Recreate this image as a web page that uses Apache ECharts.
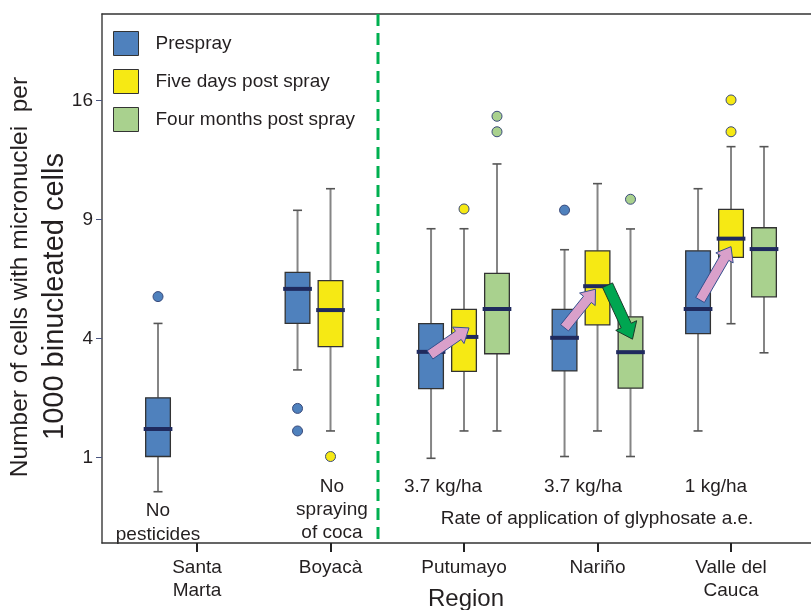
<!DOCTYPE html>
<html>
<head>
<meta charset="utf-8">
<script src="https://cdn.jsdelivr.net/npm/echarts@6/dist/echarts.min.js"></script>
<style>
  html, body { margin: 0; padding: 0; background: #fff; }
  #chart { width: 811px; height: 610px; }
</style>
</head>
<body>
<div id="chart"></div>
<script>
// Regions along the x axis
const regions = ['Santa\nMarta', 'Boyacà', 'Putumayo', 'Nariño', 'Valle del\nCauca'];
// Tick labels on the (square-root scaled) y axis
const yTicks = [1, 4, 9, 16];

// Box statistics: [region index, lower whisker, Q1, median, Q3, upper whisker]
const prespray = [
  [0, 0.51, 1.02, 1.54, 2.26, 4.53],
  [1, 3.02, 4.53, 5.85, 6.54, 9.48],
  [2, 0.99, 2.50, 3.57, 4.52, 8.55],
  [3, 1.02, 2.99, 4.03, 5.05, 7.55],
  [4, 1.50, 4.17, 5.06, 7.50, 10.63]
];
const fiveDays = [
  [1, 1.50, 3.74, 5.02, 6.19, 10.63],
  [2, 1.50, 2.98, 4.06, 5.05, 8.55],
  [3, 1.50, 4.48, 5.96, 7.50, 10.91],
  [4, 4.52, 7.20, 8.07, 9.53, 13.06]
];
const fourMonths = [
  [2, 1.50, 3.51, 5.06, 6.50, 12.03],
  [3, 1.02, 2.51, 3.56, 4.77, 8.54],
  [4, 3.54, 5.53, 7.58, 8.60, 13.06]
];

// Outliers: [region index, value]
const presprayOut = [[0, 5.54], [1, 2.00], [1, 1.50], [3, 9.49]];
const fiveDaysOut = [[1, 1.02], [2, 9.55], [4, 13.98], [4, 16.05]];
const fourMonthsOut = [[2, 13.98], [2, 14.97], [3, 10.06]];

// Change arrows between medians: [region index, from group, to group]
const riseArrows = [[2, 0, 1], [3, 0, 1], [4, 0, 1]];
const fallArrows = [[3, 1, 2]];

const FONT = "'Liberation Sans', Arial, sans-serif";
const TEXT = '#231f20';
const sq = Math.sqrt;

const groups = [
  { name: 'Prespray', color: '#4f81bd', boxes: prespray, outliers: presprayOut, offset: -0.247 },
  { name: 'Five days post spray', color: '#f6e914', boxes: fiveDays, outliers: fiveDaysOut, offset: 0 },
  { name: 'Four months post spray', color: '#a9d18e', boxes: fourMonths, outliers: fourMonthsOut, offset: 0.247 }
];

// x position of a group's box inside its region
function slot(gi, r) {
  if (gi === 0 && r === 0) return r - 0.292; // the lone Santa Marta box sits a bit further left
  return r + groups[gi].offset;
}
function medianOf(gi, r) {
  return groups[gi].boxes.find(b => b[0] === r)[3];
}

function boxRenderer(gi) {
  const color = groups[gi].color;
  return function (params, api) {
    const x = slot(gi, api.value(0));
    const pLW = api.coord([x, api.value(1)]);
    const pQ1 = api.coord([x, api.value(2)]);
    const pMed = api.coord([x, api.value(3)]);
    const pQ3 = api.coord([x, api.value(4)]);
    const pUW = api.coord([x, api.value(5)]);
    const unit = api.size([1, 0])[0];
    const hw = unit * 0.0925;
    const cx = pMed[0];
    const cap = 4.5;
    const whisker = { stroke: '#858585', lineWidth: 2 };
    const capStyle = { stroke: '#555', lineWidth: 1.6 };
    return {
      type: 'group',
      children: [
        { type: 'line', shape: { x1: cx, y1: pUW[1], x2: cx, y2: pQ3[1] }, style: whisker },
        { type: 'line', shape: { x1: cx, y1: pQ1[1], x2: cx, y2: pLW[1] }, style: whisker },
        { type: 'line', shape: { x1: cx - cap, y1: pUW[1], x2: cx + cap, y2: pUW[1] }, style: capStyle },
        { type: 'line', shape: { x1: cx - cap, y1: pLW[1], x2: cx + cap, y2: pLW[1] }, style: capStyle },
        { type: 'rect', shape: { x: cx - hw, y: pQ3[1], width: 2 * hw, height: pQ1[1] - pQ3[1] },
          style: { fill: color, stroke: '#333', lineWidth: 1.3 } },
        { type: 'line', shape: { x1: cx - hw - 2, y1: pMed[1], x2: cx + hw + 2, y2: pMed[1] },
          style: { stroke: '#1f2a5e', lineWidth: 4 } }
      ]
    };
  };
}

function arrowPoints(a, b, shaftW, headW, headL) {
  const dx = b[0] - a[0], dy = b[1] - a[1];
  const len = Math.hypot(dx, dy);
  const ux = dx / len, uy = dy / len, nx = -uy, ny = ux;
  const bx = b[0] - ux * headL, by = b[1] - uy * headL;
  const s = shaftW / 2, h = headW / 2;
  return [
    [a[0] + nx * s, a[1] + ny * s],
    [bx + nx * s, by + ny * s],
    [bx + nx * h, by + ny * h],
    [b[0], b[1]],
    [bx - nx * h, by - ny * h],
    [bx - nx * s, by - ny * s],
    [a[0] - nx * s, a[1] - ny * s]
  ];
}

// Arrows start and end near the medians they connect; per-region pixel nudges
// keep them clear of the median bars.
function arrowRenderer(style, nudges, dims) {
  return function (params, api) {
    const r = api.value(0), from = api.value(1), to = api.value(2);
    const n = nudges[r];
    const a = api.coord([slot(from, r), sq(medianOf(from, r))]);
    const b = api.coord([slot(to, r), sq(medianOf(to, r))]);
    const tail = [a[0] + n[0], a[1] + n[1]];
    const tip = [b[0] + n[2], b[1] + n[3]];
    return {
      type: 'polygon',
      shape: { points: arrowPoints(tail, tip, dims[0], dims[1], dims[2]) },
      style: style
    };
  };
}

const series = [];
groups.forEach((g, gi) => {
  series.push({
    name: g.name,
    type: 'custom',
    z: 2,
    renderItem: boxRenderer(gi),
    encode: { x: 0, y: [1, 2, 3, 4, 5] },
    data: g.boxes.map(b => [b[0]].concat(b.slice(1).map(sq))),
    silent: true
  });
});
groups.forEach((g, gi) => {
  series.push({
    name: g.name,
    type: 'scatter',
    z: 3,
    symbol: 'circle',
    symbolSize: 10,
    itemStyle: { color: g.color, borderColor: '#3b4b7b', borderWidth: 1, opacity: 1 },
    data: g.outliers.map(o => [slot(gi, o[0]), sq(o[1])]),
    silent: true
  });
});
series.push({
  type: 'custom',
  z: 5,
  renderItem: arrowRenderer({ fill: '#d9a0ca', stroke: '#34508e', lineWidth: 1 },
    { 2: [-1, 3, 5, -9], 3: [0, -10, -2, 3], 4: [2, -9, 0, 8] }, [10, 20, 13]),
  encode: { x: 0 },
  data: riseArrows,
  silent: true
});
series.push({
  type: 'custom',
  z: 5,
  renderItem: arrowRenderer({ fill: '#00a651', stroke: '#1c3b2a', lineWidth: 1 },
    { 3: [10, -1, 2, -13] }, [11, 23, 15]),
  encode: { x: 0 },
  data: fallArrows,
  silent: true
});

const textStyle = (text, x, y, size, lh) => ({
  type: 'text', x: x, y: y, silent: true,
  style: { text: text, fontSize: size, fontFamily: FONT, fill: TEXT, align: 'center', verticalAlign: 'middle', lineHeight: lh || size + 4 }
});

const chart = echarts.init(document.getElementById('chart'), null, { renderer: 'canvas' });
chart.setOption({
  animation: false,
  backgroundColor: '#fff',
  grid: { left: 102, right: 0, top: 14, bottom: 67 },
  legend: {
    orient: 'vertical', left: 113, top: 31, padding: 0,
    itemWidth: 25, itemHeight: 24, itemGap: 13,
    selectedMode: false,
    data: groups.map(g => ({ name: g.name, icon: 'rect',
      itemStyle: { color: g.color, borderColor: '#333', borderWidth: 1 } })),
    textStyle: { fontSize: 19, fontFamily: FONT, color: TEXT, padding: [0, 0, 0, 12] }
  },
  xAxis: [{
    type: 'value', min: -0.7116, max: 4.599,
    splitLine: { show: false },
    axisLine: { onZero: false, lineStyle: { color: '#333', width: 1.5 } },
    axisTick: { customValues: regions.map((r, i) => i), length: 9, lineStyle: { color: '#222', width: 2 } },
    axisLabel: { customValues: regions.map((r, i) => i), formatter: v => regions[Math.round(v)],
      fontSize: 19, lineHeight: 23, fontFamily: FONT, color: TEXT, margin: 13 }
  }, {
    type: 'value', position: 'top', min: -0.7116, max: 4.599,
    splitLine: { show: false }, axisTick: { show: false }, axisLabel: { show: false },
    axisLine: { show: true, onZero: false, lineStyle: { color: '#333', width: 1.5 } }
  }],
  yAxis: {
    type: 'value', min: 0.2832, max: 4.7286,
    splitLine: { show: false },
    axisLine: { show: true, onZero: false, lineStyle: { color: '#444', width: 1.5 } },
    axisTick: { show: true, customValues: yTicks.map(sq), length: 6, lineStyle: { color: '#4a5580', width: 1 } },
    axisLabel: { customValues: yTicks.map(sq), formatter: v => String(Math.round(v * v)),
      fontSize: 19, fontFamily: FONT, color: TEXT, margin: 9 }
  },
  graphic: [
    { type: 'line', silent: true, z: 10,
      shape: { x1: 378, y1: 14, x2: 378, y2: 543 },
      style: { stroke: '#00b050', lineWidth: 3, lineDash: [12, 7] } },
    textStyle('No\npesticides', 158, 523, 19, 24),
    textStyle('No\nspraying\nof coca', 332, 510, 19, 23),
    textStyle('3.7 kg/ha', 443, 487, 19),
    textStyle('3.7 kg/ha', 583, 487, 19),
    textStyle('1 kg/ha', 716, 487, 19),
    textStyle('Rate of application of glyphosate a.e.', 597, 519, 19),
    textStyle('Region', 466, 599, 24),
    Object.assign(textStyle('Number of cells with micronuclei  per', 20, 277, 24.5), { rotation: Math.PI / 2 }),
    Object.assign(textStyle('1000 binucleated cells', 55, 296.5, 29), { rotation: Math.PI / 2 })
  ],
  series: series
});
</script>
</body>
</html>
